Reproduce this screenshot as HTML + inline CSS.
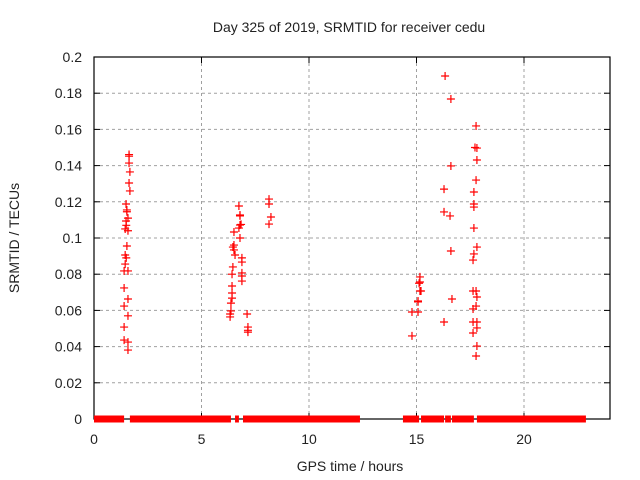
<!DOCTYPE html>
<html><head><meta charset="utf-8"><style>
body{margin:0;background:#fff;}
svg{display:block;font-family:"Liberation Sans",sans-serif;}
</style></head><body>
<svg id="chart" width="640" height="480" viewBox="0 0 640 480">
<rect width="640" height="480" fill="#fff"/>
<g id="grid"></g>
<g id="axes"></g>
<g id="marks"></g>
<text x="349" y="32" text-anchor="middle" font-size="14" fill="#222">Day 325 of 2019, SRMTID for receiver cedu</text>
<text x="350" y="471" text-anchor="middle" font-size="14" fill="#222">GPS time / hours</text>
<text transform="translate(19,238) rotate(-90)" text-anchor="middle" font-size="14" fill="#222">SRMTID / TECUs</text>
</svg>
<script>
const xTicks=[0,5,10,15,20];
const yTicks=[0,0.02,0.04,0.06,0.08,0.1,0.12,0.14,0.16,0.18,0.2];
const yTickLabels=["0","0.02","0.04","0.06","0.08","0.1","0.12","0.14","0.16","0.18","0.2"];
const ptHours=[1.63,1.63,1.63,1.67,1.63,1.67,1.49,1.53,1.53,1.58,1.49,1.5,1.45,1.58,1.53,1.45,1.5,1.45,1.4,1.58,1.4,1.58,1.4,1.58,1.4,1.4,1.58,1.58,
6.74,6.79,6.79,6.79,6.84,6.74,6.51,6.79,6.51,6.46,6.51,6.56,6.88,6.88,6.46,6.42,6.88,6.88,6.88,6.42,6.42,6.42,6.37,6.37,6.33,6.33,7.12,7.16,7.16,7.16,
8.14,8.14,8.23,8.14,
16.33,16.6,17.77,17.72,17.81,17.81,16.6,17.77,16.28,17.67,17.67,17.67,16.28,16.56,17.67,17.81,16.6,17.67,17.63,
15.16,15.16,15.12,15.16,15.21,17.63,17.77,17.81,16.65,15.07,15.07,17.77,17.63,14.79,15.07,16.28,17.63,17.81,17.81,17.63,14.79,17.81,17.77];
const ptValues=[0.1461,0.1452,0.1414,0.1365,0.1304,0.126,0.1188,0.1155,0.1145,0.111,0.1094,0.107,0.105,0.104,0.0956,0.0906,0.089,0.0856,0.0818,0.0818,0.0724,0.0663,0.0624,0.057,0.0508,0.0436,0.0425,0.0381,
0.1177,0.1127,0.1122,0.1072,0.1075,0.1055,0.1033,0.1,0.0961,0.095,0.0934,0.0906,0.089,0.0867,0.084,0.08,0.0807,0.079,0.0762,0.0735,0.0696,0.0668,0.064,0.0597,0.058,0.0564,0.058,0.0508,0.049,0.048,
0.1215,0.1188,0.1116,0.1077,
0.1895,0.1768,0.1619,0.150,0.1497,0.1431,0.1398,0.132,0.127,0.1254,0.1188,0.1171,0.1144,0.1122,0.1055,0.095,0.0928,0.0912,0.0878,
0.0785,0.0757,0.075,0.0707,0.0707,0.0707,0.0707,0.0674,0.0663,0.0652,0.0647,0.0624,0.0608,0.0591,0.0591,0.0536,0.0536,0.0536,0.0503,0.0475,0.0459,0.0403,0.0348];
const zeroStarts=[0,1.67,6.56,6.93,14.37,15.21,16.33,16.65,17.81];
const zeroEnds=[1.4,6.37,6.74,12.37,15.12,16.28,16.6,17.67,22.88];
const X0=94,X1=610,Y0=419,Y1=57,XMAX=24,YMAX=0.2;
const sx=h=>X0+h/XMAX*(X1-X0);
const sy=v=>Y0-v/YMAX*(Y0-Y1);
const NS="http://www.w3.org/2000/svg";
function mk(tag,parent,attrs){const e=document.createElementNS(NS,tag);for(const k in attrs)e.setAttribute(k,attrs[k]);parent.appendChild(e);return e;}
const grid=document.getElementById('grid'),axes=document.getElementById('axes'),marks=document.getElementById('marks');
yTicks.forEach((v,i)=>{
  const y=sy(v);
  if(i>0&&i<yTicks.length-1){const g=mk('line',grid,{x1:X0,x2:X1,y1:y,y2:y,stroke:'#a0a0a0','stroke-dasharray':'3,3'});
  
  }
  mk('line',axes,{x1:X0,x2:X0+6,y1:y,y2:y,stroke:'#000'});
  mk('line',axes,{x1:X1-6,x2:X1,y1:y,y2:y,stroke:'#000'});
  const t=mk('text',axes,{x:X0-12,y:y+5,'text-anchor':'end','font-size':'14',fill:'#222'});
  t.textContent=yTickLabels[i];
  
  
});
xTicks.forEach(h=>{
  const x=sx(h);
  if(h>0){const g=mk('line',grid,{x1:x,x2:x,y1:Y1,y2:Y0,stroke:'#a0a0a0','stroke-dasharray':'3,3'});
  
  }
  mk('line',axes,{x1:x,x2:x,y1:Y0,y2:Y0-6,stroke:'#000'});
  mk('line',axes,{x1:x,x2:x,y1:Y1,y2:Y1+6,stroke:'#000'});
  const t=mk('text',axes,{x:x,y:444,'text-anchor':'middle','font-size':'14',fill:'#222'});
  t.textContent=String(h);
  
  
});
mk('rect',axes,{x:X0,y:Y1,width:X1-X0,height:Y0-Y1,fill:'none',stroke:'#000','stroke-width':'1.2'});
zeroStarts.forEach((s,i)=>{
  const r=mk('rect',marks,{x:sx(s),y:sy(0)-3.5,width:sx(zeroEnds[i])-sx(s),height:7,fill:'#f00'});
  
  
});
ptHours.forEach((h,i)=>{
  const x=sx(h),y=sy(ptValues[i]);
  const p=mk('path',marks,{d:`M${x-4},${y}H${x+4}M${x},${y-4}V${y+4}`,stroke:'#f00','stroke-width':'1.2',fill:'none'});
  
  
});
</script>
</body></html>
